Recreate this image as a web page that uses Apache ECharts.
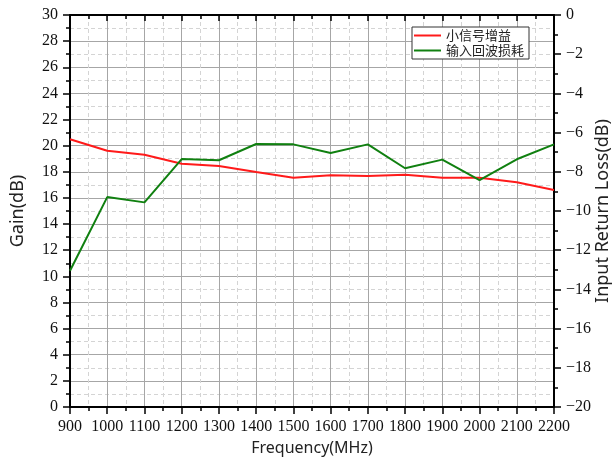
<!DOCTYPE html>
<html>
<head>
<meta charset="utf-8">
<script src="https://cdn.jsdelivr.net/npm/echarts@6/dist/echarts.min.js"></script>
<style>
  html, body { margin: 0; padding: 0; background: #fff; }
  #chart { width: 613px; height: 467px; }
</style>
</head>
<body>
<div id="chart"></div>
<script>
// Frequency points (MHz)
const frequency = [900, 1000, 1100, 1200, 1300, 1400, 1500, 1600, 1700, 1800, 1900, 2000, 2100, 2200];
// Small-signal gain (dB), left axis
const gain = [20.49, 19.61, 19.31, 18.62, 18.44, 17.98, 17.55, 17.73, 17.68, 17.78, 17.55, 17.55, 17.2, 16.6];
// Input return loss (dB), right axis
const returnLoss = [-13.05, -9.29, -9.56, -7.35, -7.41, -6.58, -6.6, -7.04, -6.6, -7.82, -7.38, -8.42, -7.36, -6.6];

const seriesNames = ['小信号增益', '输入回波损耗'];

const tickFont = { fontFamily: 'Liberation Serif', fontSize: 16, color: '#111' };
const axisLine = { show: true, onZero: false, lineStyle: { color: '#000', width: 2 } };
const majorTick = { show: true, length: 7, lineStyle: { color: '#000', width: 1.5 } };
const minorTick = { show: true, splitNumber: 2, length: 4, lineStyle: { color: '#000', width: 1.5 } };
const majorGrid = { show: true, lineStyle: { color: '#a6a6a6', width: 1 } };
const minorGrid = { show: true, lineStyle: { color: '#d4d4d4', width: 1, type: [4, 3] } };

const plainNumber = (v) => String(v);
const pairs = (ys) => frequency.map((f, i) => [f, ys[i]]);

const chart = echarts.init(document.getElementById('chart'), null, { renderer: 'canvas' });
chart.setOption({
  animation: false,
  backgroundColor: '#fff',
  grid: { left: 70, right: 59, top: 15, bottom: 60, containLabel: false, outerBoundsMode: 'none' },
  legend: {
    orient: 'vertical',
    left: 412,
    top: 27,
    padding: [2, 5, 2, 2],
    itemGap: 2,
    itemWidth: 27,
    itemHeight: 2,
    icon: 'rect',
    borderColor: '#333',
    borderWidth: 1,
    backgroundColor: '#fff',
    textStyle: { fontFamily: 'Noto Sans CJK SC', fontSize: 13, color: '#222' },
    data: seriesNames
  },
  xAxis: [
    {
      type: 'value',
      min: 900, max: 2200, interval: 100,
      name: 'Frequency(MHz)',
      nameLocation: 'middle',
      nameGap: 33,
      nameMoveOverlap: false,
      nameTextStyle: { fontFamily: 'Noto Sans', fontSize: 16, color: '#222' },
      axisLine: axisLine,
      axisTick: majorTick,
      minorTick: minorTick,
      axisLabel: Object.assign({ margin: 12, formatter: plainNumber }, tickFont),
      splitLine: majorGrid,
      minorSplitLine: minorGrid
    },
    {
      type: 'value',
      position: 'top',
      min: 900, max: 2200, interval: 100,
      axisLine: axisLine,
      axisTick: Object.assign({}, majorTick, { inside: true, length: 6 }),
      minorTick: Object.assign({}, minorTick, { inside: true }),
      axisLabel: { show: false },
      splitLine: { show: false }
    }
  ],
  yAxis: [
    {
      type: 'value',
      position: 'left',
      min: 0, max: 30, interval: 2,
      name: 'Gain(dB)',
      nameLocation: 'middle',
      nameGap: 43,
      nameMoveOverlap: false,
      nameRotate: 90,
      nameTextStyle: { fontFamily: 'Noto Sans', fontSize: 18, color: '#222' },
      axisLine: axisLine,
      axisTick: majorTick,
      minorTick: minorTick,
      axisLabel: Object.assign({ margin: 12, formatter: plainNumber }, tickFont),
      splitLine: majorGrid,
      minorSplitLine: minorGrid
    },
    {
      type: 'value',
      position: 'right',
      min: -20, max: 0, interval: 2,
      name: 'Input Return Loss(dB)',
      nameLocation: 'middle',
      nameGap: 40,
      nameMoveOverlap: false,
      nameRotate: 90,
      nameTextStyle: { fontFamily: 'Noto Sans', fontSize: 18, color: '#222' },
      axisLine: axisLine,
      axisTick: majorTick,
      minorTick: minorTick,
      axisLabel: Object.assign({
        margin: 12,
        formatter: (v) => String(v).replace('-', '\u2212')
      }, tickFont),
      splitLine: { show: false }
    }
  ],
  series: [
    {
      name: seriesNames[0],
      type: 'line',
      xAxisIndex: 0,
      yAxisIndex: 0,
      data: pairs(gain),
      showSymbol: false,
      symbol: 'none',
      itemStyle: { color: '#ff1a1a' },
      lineStyle: { color: '#ff1a1a', width: 2 }
    },
    {
      name: seriesNames[1],
      type: 'line',
      xAxisIndex: 0,
      yAxisIndex: 1,
      data: pairs(returnLoss),
      showSymbol: false,
      symbol: 'none',
      itemStyle: { color: '#108010' },
      lineStyle: { color: '#108010', width: 2 }
    }
  ]
});
</script>
</body>
</html>
